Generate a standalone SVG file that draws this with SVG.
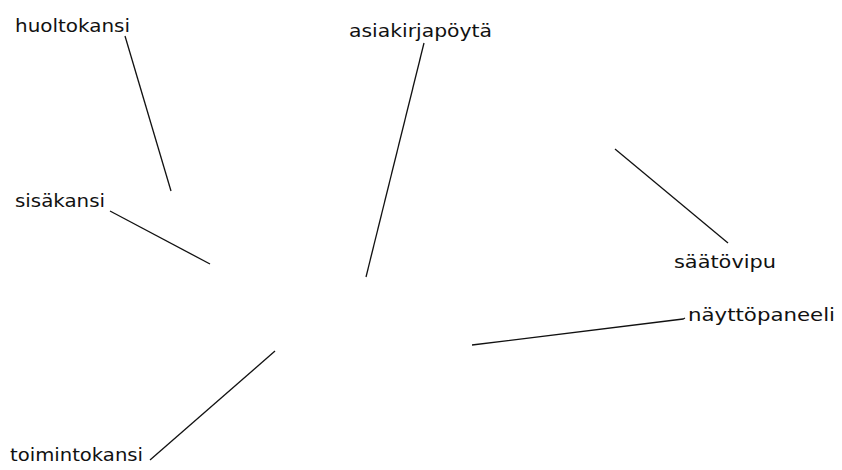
<svg xmlns="http://www.w3.org/2000/svg" width="842" height="470" viewBox="0 0 842 470">
<style>
.lbl{font-family:"DejaVu Sans","Liberation Sans",sans-serif;font-size:18px;fill:#111}
.ln{stroke:#111;stroke-width:1.3;fill:none}
</style>
<rect width="842" height="470" fill="#fff"/>
<g id="connectors">
<line class="ln" x1="125" y1="36" x2="171" y2="191"/>
<line class="ln" x1="110" y1="211" x2="210" y2="264"/>
<line class="ln" x1="424" y1="43" x2="366" y2="277"/>
<line class="ln" x1="615" y1="149" x2="728" y2="243"/>
<polyline class="ln" points="472,345 683,319 685,318"/>
<line class="ln" x1="275" y1="351" x2="150" y2="460"/>
</g>
<g id="huoltokansi"><text class="lbl" x="15" y="32" textLength="115" lengthAdjust="spacingAndGlyphs">huoltokansi</text></g>
<g id="sisakansi"><text class="lbl" x="15" y="207" textLength="90" lengthAdjust="spacingAndGlyphs">sisäkansi</text></g>
<g id="asiakirjapoyta"><text class="lbl" x="349" y="37" textLength="143" lengthAdjust="spacingAndGlyphs">asiakirjapöytä</text></g>
<g id="saatovipu"><text class="lbl" x="674" y="268" textLength="102" lengthAdjust="spacingAndGlyphs">säätövipu</text></g>
<g id="nayttopaneeli"><text class="lbl" x="688" y="321" textLength="147" lengthAdjust="spacingAndGlyphs">näyttöpaneeli</text></g>
<g id="toimintokansi"><text class="lbl" x="10" y="461" textLength="133" lengthAdjust="spacingAndGlyphs">toimintokansi</text></g>
</svg>
